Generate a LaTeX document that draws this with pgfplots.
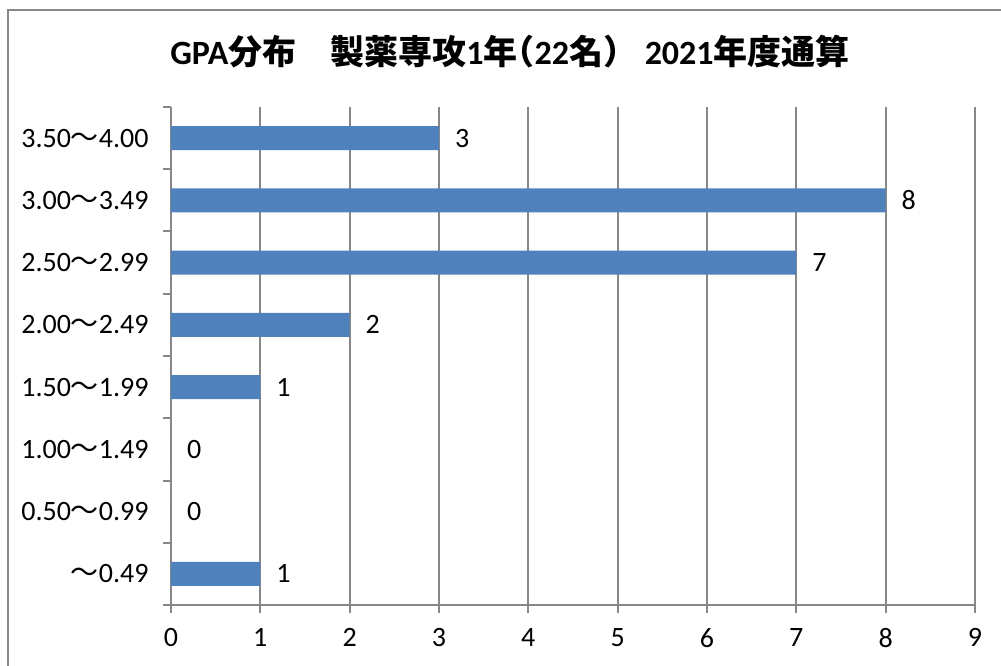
\documentclass[border=0pt]{standalone}
\usepackage{pgfplots}
\pgfplotsset{compat=1.18}
\usepackage{fontspec}
\setmainfont{Carlito}
\newfontfamily\cjk{Noto Sans CJK JP}
\newfontfamily\cjkh[RawFeature=+halt]{Noto Sans CJK JP}
\definecolor{barblue}{HTML}{4F81BD}
\definecolor{gridgray}{HTML}{878787}
\begin{document}
\begin{tikzpicture}
\useasboundingbox (0,0) rectangle (750.75pt,498.75pt);
\draw[gridgray, line width=1.5pt] (6pt,-5pt) -- (6pt,491.25pt) -- (760pt,491.25pt);
\node[font=\bfseries\fontsize{25.5}{30}\selectfont, inner sep=0pt] at (382.5pt,459.75pt)
  {GPA{\cjk 分布　製薬専攻}1{\cjk 年}{\cjkh （}22{\cjk 名）} 2021{\cjk 年度通算}};
\begin{axis}[
  at={(128.25pt,45pt)}, anchor=south west, scale only axis,
  width=603pt, height=373.5pt,
  xbar, bar width=18pt,
  xmin=0, xmax=9, ymin=-0.5, ymax=7.5,
  axis lines*=left,
  axis line style={gridgray, line width=1.5pt, -},
  xtick={0,...,9},
  ytick={-0.5,0.5,...,7.5}, yticklabels={},
  extra y ticks={0,...,7},
  extra y tick labels={{\cjk 〜}0.49, 0.50{\cjk 〜}0.99, 1.00{\cjk 〜}1.49, 1.50{\cjk 〜}1.99, 2.00{\cjk 〜}2.49, 2.50{\cjk 〜}2.99, 3.00{\cjk 〜}3.49, 3.50{\cjk 〜}4.00},
  extra y tick style={tick style={draw=none}},
  tick align=outside, major tick length=6pt,
  tick style={gridgray, line width=1.5pt},
  xmajorgrids, major grid style={gridgray, line width=1.5pt},
  /pgf/number format/assume math mode=true,
  ticklabel style={font=\fontsize{21}{25}\selectfont, text=black},
  yticklabel style={xshift=-7.25pt},
  xticklabel style={yshift=-8pt},
  point meta=x,
  nodes near coords,
  nodes near coords style={font=\fontsize{21}{25}\selectfont, text=black, anchor=west, xshift=8.5pt},
]
\addplot[fill=barblue, draw=none] coordinates {
  (1,0) (0,1) (0,2) (1,3) (2,4) (7,5) (8,6) (3,7)
};
\end{axis}
\end{tikzpicture}
\end{document}
